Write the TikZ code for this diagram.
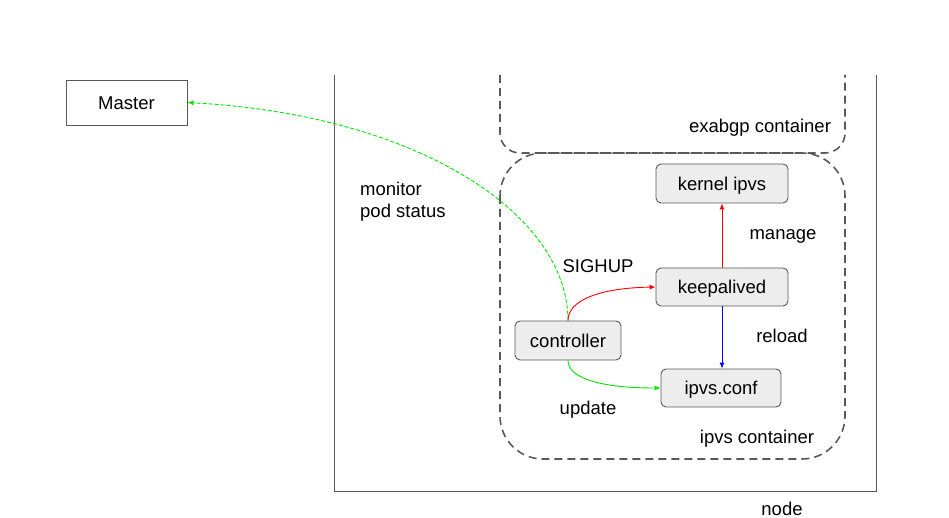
\documentclass[tikz,border=0pt]{standalone}
\usepackage{fontspec}
\setmainfont{Liberation Sans}
\usetikzlibrary{arrows.meta}
\begin{document}
\begin{tikzpicture}[x=1pt,y=-1pt,
  every node/.style={font=\fontsize{18.5}{22}\selectfont, inner sep=0pt, text height=13.4pt, text depth=0pt},
  box/.style={draw=black!65, line width=0.9pt, fill=black!7, rounded corners=5pt},
  plainbox/.style={draw=black!65, line width=0.9pt},
  cont/.style={draw=black!65, line width=1.6pt, dash pattern=on 8pt off 5pt},
  arr/.style={line width=0.9pt, -{Latex[length=6pt,width=5pt]}},
  lbl/.style={anchor=center}
]
\useasboundingbox (0,0) rectangle (949,518);
% node outline (open top)
\draw[draw=black!65, line width=0.9pt] (334,75) -- (334,491) -- (876,491) -- (876,75);
\node[lbl] (nodelbl) at (782,509) {node};
% exabgp container (open top)
\draw[cont, rounded corners=20pt] (500,75) -- (500,153) -- (845,153) -- (845,75);
\node[lbl] (exlbl) at (760,126) {exabgp container};
% ipvs container
\draw[cont, rounded corners=43pt] (500,153) rectangle (845,459);
\node[lbl] (ipvslbl) at (757,437) {ipvs container};
% boxes
\node[plainbox, minimum width=121pt, minimum height=45pt] (master) at (126.5,102.5) {Master};
\node[box, minimum width=132pt, minimum height=39pt] (kernel) at (722,183.5) {kernel ipvs};
\node[box, minimum width=132pt, minimum height=38pt] (keep) at (722,287) {keepalived};
\node[box, minimum width=106pt, minimum height=39pt] (ctrl) at (568,340.5) {controller};
\node[box, minimum width=120pt, minimum height=38pt] (conf) at (721,388) {ipvs.conf};
% labels
\node[anchor=west, align=left, text height=, text depth=] (mon) at (360,202) {monitor\\pod status};
\node[lbl] (sig) at (598,266) {SIGHUP};
\node[lbl] (man) at (783,233) {manage};
\node[lbl] (rel) at (782,336) {reload};
\node[lbl] (upd) at (588,408) {update};
% connectors
\draw[arr, draw={rgb,255:red,0;green,230;blue,0}, dashed, dash pattern=on 4pt off 2pt]
  (ctrl.north) .. controls (568,215) and (420,115) .. (master.east);
\draw[arr, red] (ctrl.north) .. controls (568,300) and (600,288) .. (keep.west);
\draw[arr, draw={rgb,255:red,0;green,230;blue,0}] (ctrl.south) .. controls (568,378) and (600,388) .. (conf.west);
\draw[arr, blue] (keep.south) -- (keep.south |- conf.north);
\draw[arr, red] (keep.north) -- (kernel.south);
\end{tikzpicture}
\end{document}
